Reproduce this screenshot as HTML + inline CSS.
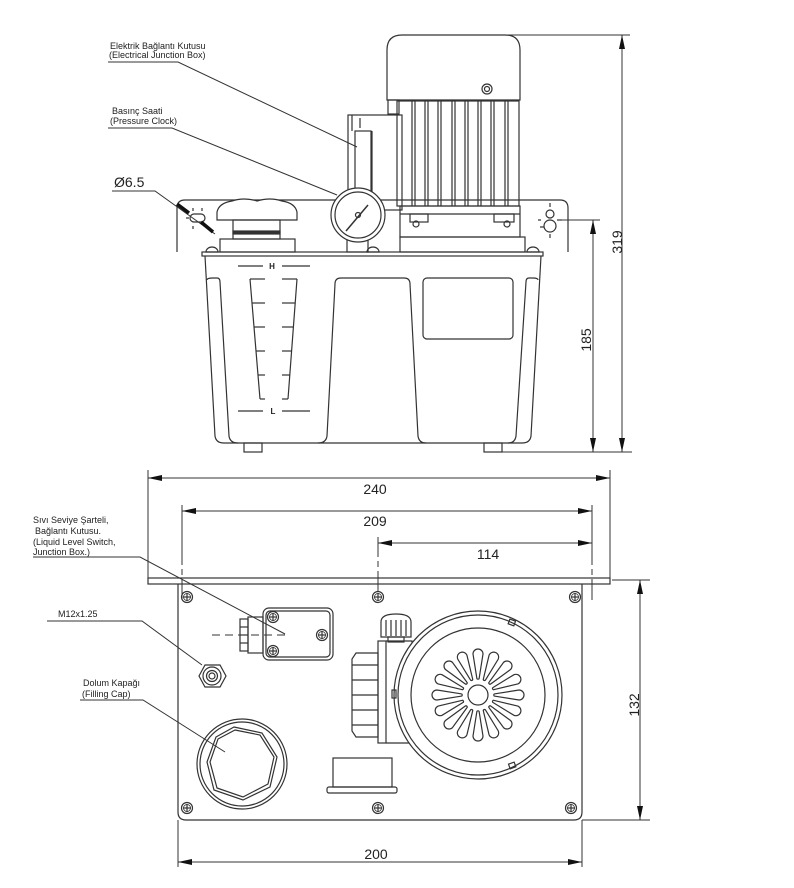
<!DOCTYPE html>
<html><head><meta charset="utf-8"><style>
html,body{margin:0;padding:0;background:#fff;}
svg{display:block;}
text{font-family:"Liberation Sans",Arial,sans-serif;fill:#222;}
</style></head><body>
<svg width="794" height="888" viewBox="0 0 794 888" xmlns="http://www.w3.org/2000/svg">
<defs>
<marker id="ar" markerWidth="14" markerHeight="6" refX="14" refY="3" orient="auto-start-reverse" markerUnits="userSpaceOnUse"><path d="M0,0 L14,3 L0,6 Z" fill="#111"/></marker>
<g id="scr"><circle r="5.5" fill="#fff" stroke="#333" stroke-width="1.2"/><circle r="3.5" fill="none" stroke="#333" stroke-width="0.8"/><line x1="-4" y1="0" x2="4" y2="0" stroke="#333" stroke-width="1.2"/><line x1="0" y1="-4" x2="0" y2="4" stroke="#333" stroke-width="1.2"/></g>
<path id="pet" d="M-1.2,-17 L-5,-41 A5,5 0 0 1 5,-41 L1.2,-17 A1.2,1.2 0 0 1 -1.2,-17 Z" fill="none" stroke="#333" stroke-width="1.2"/>
</defs>
<rect width="794" height="888" fill="#fff"/>

<g fill="none" stroke="#333" stroke-width="1.2">
<!-- ===== SIDE VIEW ===== -->
<path d="M387,100 L387,50 Q387,35 402,35 L505,35 Q520,35 520,50 L520,100 Z"/>
<circle cx="487" cy="89" r="5"/><circle cx="487" cy="89" r="2.5"/>
<rect x="388" y="100" width="11" height="14"/>
<rect x="397" y="101" width="122" height="105"/>
<line x1="412" y1="101" x2="412" y2="206"/><line x1="415" y1="101" x2="415" y2="206"/>
<line x1="425" y1="101" x2="425" y2="206"/><line x1="428" y1="101" x2="428" y2="206"/>
<line x1="438" y1="101" x2="438" y2="206"/><line x1="441" y1="101" x2="441" y2="206"/>
<line x1="452" y1="101" x2="452" y2="206"/><line x1="455" y1="101" x2="455" y2="206"/>
<line x1="465" y1="101" x2="465" y2="206"/><line x1="468" y1="101" x2="468" y2="206"/>
<line x1="478" y1="101" x2="478" y2="206"/><line x1="481" y1="101" x2="481" y2="206"/>
<line x1="491" y1="101" x2="491" y2="206"/><line x1="494" y1="101" x2="494" y2="206"/>
<line x1="505" y1="101" x2="505" y2="206"/><line x1="508" y1="101" x2="508" y2="206"/>
<rect x="400" y="206" width="120" height="31"/>
<line x1="400" y1="214" x2="520" y2="214"/>
<rect x="410" y="214" width="18" height="8"/><circle cx="416" cy="224" r="3"/>
<rect x="494" y="214" width="20" height="8"/><circle cx="507" cy="224" r="3"/>
<rect x="400" y="237" width="125" height="15"/>
<rect x="348" y="115" width="54" height="95"/>
<rect x="355" y="131" width="16" height="70"/>
<line x1="372" y1="131" x2="372" y2="201"/>
<path d="M352,115 L352,131 M360,118 L360,128"/>
<path d="M177,252 L177,208 Q177,200 185,200 L560,200 Q568,200 568,208 L568,252"/>
<rect x="190" y="214" width="15" height="8" rx="4"/>
<line x1="186" y1="218" x2="189" y2="218"/><line x1="193" y1="208" x2="193" y2="211"/><line x1="202" y1="208" x2="202" y2="211"/><line x1="193" y1="226" x2="193" y2="229"/>
<circle cx="550" cy="214" r="4"/><circle cx="550" cy="226" r="6"/>
<line x1="538" y1="220" x2="543" y2="220" stroke-dasharray="3,2"/><line x1="557" y1="220" x2="562" y2="220"/>
<line x1="550" y1="203" x2="550" y2="207"/><line x1="550" y1="234" x2="550" y2="238"/>
<line x1="540" y1="227" x2="544" y2="227"/>
<path d="M217,220 L217,212 Q219,203 232,201 Q244,197 257,201 Q270,197 282,201 Q295,203 297,212 L297,220 Z" fill="#fff"/>
<rect x="233" y="220" width="47" height="19"/>
<rect x="233" y="231" width="47" height="3" fill="#333"/>
<rect x="220" y="239" width="75" height="13"/>
<rect x="347" y="240" width="21" height="12"/>
<circle cx="358" cy="215" r="27" fill="#fff"/>
<circle cx="358" cy="215" r="23"/>
<line x1="346" y1="231" x2="368" y2="205" stroke-width="1.5"/>
<circle cx="358" cy="215" r="2.5"/>
<path d="M206,252 A6,5 0 0 1 218,252 Z"/>
<path d="M367,252 A6,5 0 0 1 379,252 Z"/>
<path d="M527,252 A6,5 0 0 1 539,252 Z"/>
<rect x="202" y="252" width="341" height="4"/>
<path d="M205,256 L215,436 Q216,443 224,443 L522,443 Q530,443 531,436 L541,256"/>
<path d="M207,280 Q207,278 213,278 L217,278 Q220,278 220,282 L229,436 Q230,443 238,443"/>
<path d="M538,280 Q538,278 533,278 L529,278 Q526,278 526,282 L516,436 Q515,443 508,443"/>
<path d="M327,436 L335,284 Q335,278 341,278 L404,278 Q410,278 410,284 L418,436 Q419,443 426,443"/>
<path d="M318,443 Q326,443 327,436"/>
<rect x="423" y="278" width="90" height="61" rx="4"/>
<rect x="244" y="443" width="18" height="9"/>
<rect x="484" y="443" width="18" height="9"/>
<line x1="238" y1="266" x2="263" y2="266"/><line x1="282" y1="266" x2="310" y2="266"/>
<line x1="238" y1="411" x2="263" y2="411"/><line x1="282" y1="411" x2="310" y2="411"/>
<line x1="250" y1="279" x2="260" y2="399"/><line x1="297" y1="279" x2="288" y2="399"/>
<line x1="250" y1="279" x2="265" y2="279"/><line x1="282" y1="279" x2="297" y2="279"/>
<line x1="252" y1="303" x2="265" y2="303"/><line x1="282" y1="303" x2="295" y2="303"/>
<line x1="254" y1="327" x2="265" y2="327"/><line x1="282" y1="327" x2="293" y2="327"/>
<line x1="256" y1="351" x2="265" y2="351"/><line x1="282" y1="351" x2="292" y2="351"/>
<line x1="258" y1="375" x2="265" y2="375"/><line x1="282" y1="375" x2="290" y2="375"/>
<line x1="260" y1="399" x2="265" y2="399"/><line x1="282" y1="399" x2="288" y2="399"/>
</g>
<text x="272" y="269" font-size="8" text-anchor="middle" font-weight="bold">H</text>
<text x="273" y="414" font-size="8" text-anchor="middle" font-weight="bold">L</text>

<g stroke="#333" stroke-width="1" fill="none">
<line x1="505" y1="35" x2="630" y2="35"/>
<line x1="500" y1="452" x2="632" y2="452"/>
<line x1="562" y1="220" x2="600" y2="220"/>
<line x1="622" y1="35" x2="622" y2="452" marker-start="url(#ar)" marker-end="url(#ar)"/>
<line x1="593" y1="220" x2="593" y2="452" marker-start="url(#ar)" marker-end="url(#ar)"/>
</g>
<text transform="translate(617,242) rotate(-90)" font-size="14" text-anchor="middle" dominant-baseline="central">319</text>
<text transform="translate(586,340) rotate(-90)" font-size="14" text-anchor="middle" dominant-baseline="central">185</text>

<g stroke="#333" stroke-width="1" fill="none">
<polyline points="108,62 178,62 357,147"/>
<polyline points="108,128 172,128 337,195"/>
<polyline points="112,191 155,191 215,234"/>
</g>
<line x1="177" y1="204" x2="189" y2="213" stroke="#111" stroke-width="3.5"/>
<line x1="201" y1="222" x2="213" y2="232" stroke="#111" stroke-width="3.5"/>
<text x="110" y="49" font-size="9">Elektrik Bağlantı Kutusu</text>
<text x="109" y="58" font-size="9">(Electrical Junction Box)</text>
<text x="112" y="114" font-size="9">Basınç Saati</text>
<text x="110" y="124" font-size="9">(Pressure Clock)</text>
<text x="114" y="187" font-size="14">Ø6.5</text>

<!-- ===== TOP VIEW ===== -->
<g fill="none" stroke="#333" stroke-width="1.2">
<rect x="148" y="578" width="462" height="6"/>
<path d="M178,584 L178,812 Q178,820 186,820 L574,820 Q582,820 582,812 L582,584"/>
<rect x="263" y="608" width="70" height="52" rx="6"/>
<rect x="266" y="611" width="64" height="46" rx="4"/>
<rect x="248" y="617" width="15" height="36"/>
<rect x="240" y="619" width="8" height="32"/>
<line x1="240" y1="627" x2="248" y2="627"/><line x1="240" y1="635" x2="248" y2="635"/><line x1="240" y1="643" x2="248" y2="643"/>
<line x1="212" y1="635" x2="285" y2="635" stroke-dasharray="8,5" stroke-width="1"/>
<polygon points="199,676 205,665 220,665 226,676 220,687 205,687"/>
<circle cx="212" cy="676" r="9"/><circle cx="212" cy="676" r="5.5"/><circle cx="212" cy="676" r="3"/>
<circle cx="242" cy="764" r="45"/>
<circle cx="242" cy="764" r="42"/>
<polygon points="234,727 262,733 277,757 270,787 243,800 214,790 207,762 216,737"/>
<polygon points="235,730 260,735 274,757 268,784 243,797 217,788 210,762 218,739"/>
<path d="M356,653 L378,653 L378,737 L356,737 L352,731 L352,659 Z"/>
<line x1="352" y1="665" x2="378" y2="665"/><line x1="352" y1="680" x2="378" y2="680"/><line x1="352" y1="695" x2="378" y2="695"/><line x1="352" y1="710" x2="378" y2="710"/><line x1="352" y1="725" x2="378" y2="725"/>
<rect x="378" y="641" width="8" height="102"/>
<path d="M386,641 L412,641 L412,743 L386,743"/>
<path d="M381,637 L381,622 Q381,614 396,614 Q411,614 411,622 L411,637 Z"/>
<line x1="386" y1="620" x2="386" y2="636"/><line x1="391" y1="620" x2="391" y2="636"/><line x1="396" y1="620" x2="396" y2="636"/><line x1="401" y1="620" x2="401" y2="636"/><line x1="406" y1="620" x2="406" y2="636"/>
<rect x="388" y="637" width="16" height="5"/>
<circle cx="478" cy="695" r="84" fill="#fff"/>
<circle cx="478" cy="695" r="80"/>
<circle cx="478" cy="695" r="67"/>
<circle cx="478" cy="695" r="10"/>
<rect x="509" y="620" width="6" height="5" transform="rotate(20 512 622)"/>
<rect x="509" y="763" width="6" height="5" transform="rotate(-20 512 765)"/>
<rect x="392" y="690" width="4" height="8"/>
<rect x="333" y="758" width="59" height="29"/>
<rect x="327" y="787" width="70" height="6" rx="2"/>
</g>
<g transform="translate(478,695)">
<use href="#pet" transform="rotate(0)"/><use href="#pet" transform="rotate(22.5)"/><use href="#pet" transform="rotate(45)"/><use href="#pet" transform="rotate(67.5)"/>
<use href="#pet" transform="rotate(90)"/><use href="#pet" transform="rotate(112.5)"/><use href="#pet" transform="rotate(135)"/><use href="#pet" transform="rotate(157.5)"/>
<use href="#pet" transform="rotate(180)"/><use href="#pet" transform="rotate(202.5)"/><use href="#pet" transform="rotate(225)"/><use href="#pet" transform="rotate(247.5)"/>
<use href="#pet" transform="rotate(270)"/><use href="#pet" transform="rotate(292.5)"/><use href="#pet" transform="rotate(315)"/><use href="#pet" transform="rotate(337.5)"/>
</g>
<use href="#scr" x="187" y="597"/><use href="#scr" x="378" y="597"/><use href="#scr" x="575" y="597"/>
<use href="#scr" x="187" y="808"/><use href="#scr" x="378" y="808"/><use href="#scr" x="571" y="808"/>
<use href="#scr" x="273" y="617"/><use href="#scr" x="273" y="651"/><use href="#scr" x="322" y="635"/>

<g stroke="#333" stroke-width="1" fill="none">
<line x1="148" y1="470" x2="148" y2="578"/>
<line x1="610" y1="470" x2="610" y2="578"/>
<line x1="148" y1="478" x2="610" y2="478" marker-start="url(#ar)" marker-end="url(#ar)"/>
<line x1="182" y1="505" x2="182" y2="600" stroke-dasharray="60,4,6,4"/>
<line x1="592" y1="505" x2="592" y2="600" stroke-dasharray="60,4,6,4"/>
<line x1="182" y1="511" x2="592" y2="511" marker-start="url(#ar)" marker-end="url(#ar)"/>
<line x1="378" y1="537" x2="378" y2="600" stroke-dasharray="20,4,6,4"/>
<line x1="378" y1="543" x2="592" y2="543" marker-start="url(#ar)" marker-end="url(#ar)"/>
<line x1="612" y1="580" x2="650" y2="580"/>
<line x1="582" y1="820" x2="650" y2="820"/>
<line x1="640" y1="580" x2="640" y2="820" marker-start="url(#ar)" marker-end="url(#ar)"/>
<line x1="178" y1="820" x2="178" y2="867"/>
<line x1="582" y1="820" x2="582" y2="867"/>
<line x1="178" y1="862" x2="582" y2="862" marker-start="url(#ar)" marker-end="url(#ar)"/>
</g>
<text x="375" y="494" font-size="14" text-anchor="middle">240</text>
<text x="375" y="526" font-size="14" text-anchor="middle">209</text>
<text x="488" y="559" font-size="14" text-anchor="middle">114</text>
<text x="376" y="859" font-size="14" text-anchor="middle">200</text>
<text transform="translate(634,705) rotate(-90)" font-size="14" text-anchor="middle" dominant-baseline="central">132</text>

<g stroke="#333" stroke-width="1" fill="none">
<polyline points="33,557 140,557 285,634"/>
<polyline points="47,621 142,621 202,665"/>
<polyline points="80,700 143,700 225,752"/>
</g>
<text x="33" y="523" font-size="9">Sıvı Seviye Şarteli,</text>
<text x="35" y="534" font-size="9">Bağlantı Kutusu.</text>
<text x="33" y="545" font-size="9">(Liquid Level Switch,</text>
<text x="33" y="555" font-size="9">Junction Box.)</text>
<text x="58" y="617" font-size="9">M12x1.25</text>
<text x="83" y="686" font-size="9">Dolum Kapağı</text>
<text x="82" y="697" font-size="9">(Filling Cap)</text>
</svg>
</body></html>
